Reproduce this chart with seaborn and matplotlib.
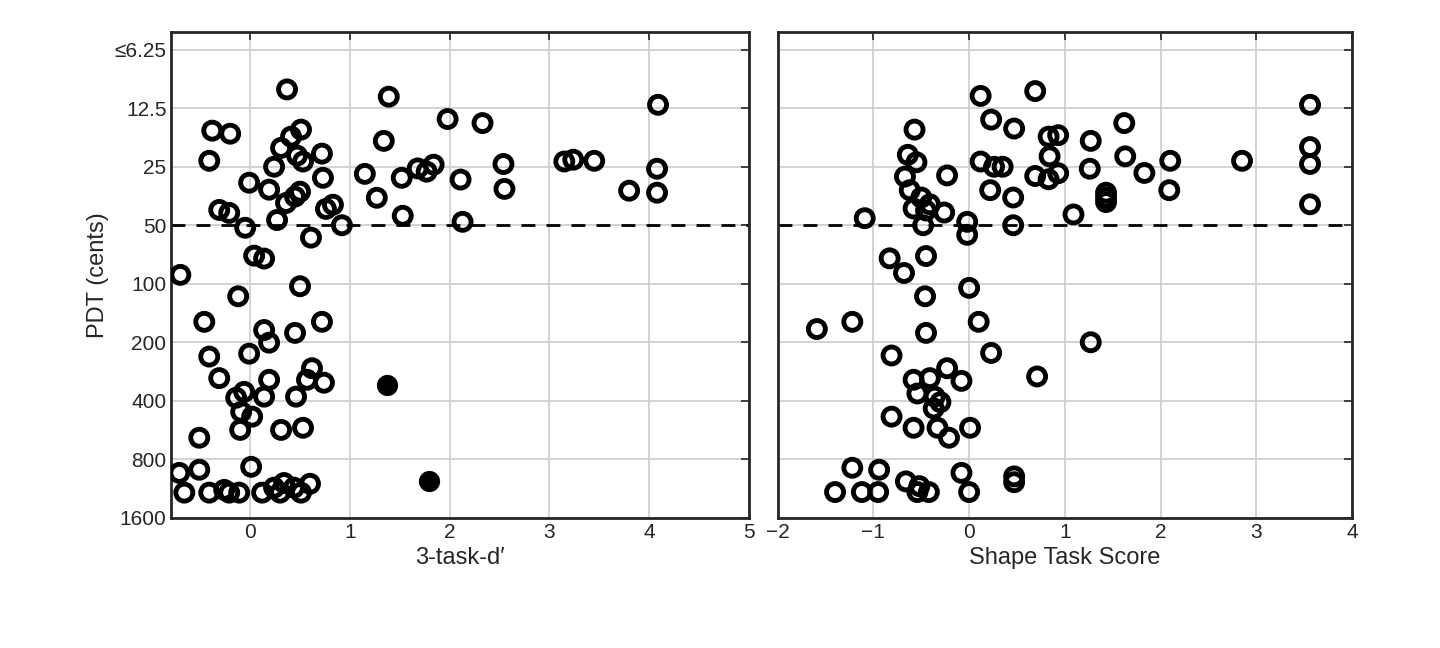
import seaborn as sns
import pandas as pd
import numpy as np
import matplotlib.pyplot as plt

sns.set_style("white")
plt.rcParams['font.family'] = ['Liberation Sans', 'DejaVu Sans']

# left panel: 3-task d' vs PDT (open rings)
d_x = [0.37, 1.39, 4.09, 1.98, 2.33, -0.38, -0.2, 0.51, 0.41, 1.34, 0.31, 0.72, -0.41, 0.47, 0.53,
       1.84, 1.77, 1.68, 2.54, 3.15, 3.24, 3.45, 4.08, 0.24, 1.52, 1.15, 0.73, 2.11, -0.01, 0.19,
       0.50, 2.55, 3.80, 4.08, 1.27, 0.36, 0.45, 0.83, 0.76, -0.31, -0.21, 1.53, 0.27, -0.05, 2.13,
       0.92, 0.61, 0.04, 0.14, -0.70, -0.12, 0.50, -0.46, 0.72, 0.14, 0.45, 0.19, -0.01, -0.41,
       0.62, -0.31, 0.19, 0.57, 0.74, -0.06, -0.14, 0.46, 0.14, -0.09, 0.02, -0.10, 0.31, 0.53,
       -0.51, 0.01, -0.51, -0.71, -0.66, -0.41, -0.21, -0.11, 0.12, 0.24, 0.34, 0.44, 0.51, 0.60,
       0.30, -0.26]
d_y = [10.0, 10.9, 12.0, 14.2, 14.9, 16.3, 16.9, 16.1, 17.5, 18.4, 20.0, 21.4, 23.3, 21.9, 23.5,
       24.4, 26.5, 25.5, 24.2, 23.5, 23.0, 23.3, 25.6, 25.0, 28.5, 27.2, 28.5, 29.1, 30.2, 32.8,
       33.6, 32.5, 33.2, 34.0, 36.1, 38.4, 35.6, 39.2, 41.2, 41.7, 43.2, 44.7, 47.0, 51.5, 48.0,
       50.0, 57.9, 71.7, 74.2, 90, 116, 103, 157, 157, 173, 179, 201, 229, 237,
       272, 306, 312, 312, 323, 360, 386, 381, 381, 456, 483, 565, 565, 551,
       620, 875, 906, 940, 1188, 1188, 1188, 1188, 1188, 1120, 1060, 1120, 1188, 1070,
       1188, 1150]
# left panel filled markers
df_x = [1.37, 1.79]
df_y = [332, 1040]

# right panel: shape task score vs PDT
s_x = [0.12, 0.69, 3.56, 0.23, 0.47, -0.57, 1.62, 0.93, 0.83, 1.27, 3.56, -0.64, -0.55, 1.63, 0.84,
       2.10, 2.85, 3.56, 0.12, 0.26, 0.35, 1.26, 1.83, -0.67, 0.69, -0.23, 0.83, 0.93, 1.43, 0.22,
       2.09, -0.62, -0.50, 0.46, 1.43, 3.56, -0.41, -0.58, -0.26, 1.09, -0.45, -1.09, 0.46, -0.48,
       -0.02, -0.02, -0.83, -0.45, -0.68, 0.0, -0.46, -1.59, -1.22, 0.10, -0.45, 1.27, 0.23, -0.81,
       -0.23, -0.58, -0.41, -0.08, 0.71, -0.54, -0.36, -0.30, -0.37, -0.81, -0.58, -0.33, -0.21,
       0.01, -1.22, -0.94, -0.08, 0.47, 0.47, -0.66, -0.52, -1.40, -1.12, -0.95, -0.54, -0.42, 0.0,
       1.43]
s_y = [10.8, 10.2, 12.0, 14.3, 15.9, 16.1, 14.9, 17.2, 17.5, 18.4, 19.8, 21.7, 23.7, 22.1, 22.1,
       23.3, 23.3, 24.2, 23.5, 25.0, 25.0, 25.6, 26.9, 28.1, 27.9, 27.7, 29.0, 27.0, 34.0, 33.0,
       33.0, 33.0, 36.0, 36.0, 38.0, 39.0, 39.0, 41.0, 43.0, 44.0, 42.0, 46.0, 50.0, 50.0,
       48.0, 56.0, 74, 72, 88, 105, 116, 171, 157, 157, 179, 200, 227, 234,
       272, 312, 306, 316, 300, 367, 381, 407, 438, 483, 551, 551, 620,
       551, 885, 906, 940, 980, 1050, 1040, 1100, 1180, 1180, 1180, 1180, 1180, 1180,
       36.0]

yticks = [6.25, 12.5, 25, 50, 100, 200, 400, 800, 1600]
ytick_labels = ['≤6.25', '12.5', '25', '50', '100', '200', '400', '800', '1600']

fig = plt.figure(figsize=(14.4, 6.48), dpi=100)
ax1 = fig.add_axes([0.119, 0.201, 0.401, 0.750])
ax2 = fig.add_axes([0.540, 0.201, 0.399, 0.750])

ring = dict(facecolor='none', edgecolor='black', linewidth=3.5, s=150, zorder=3)
sns.scatterplot(x=d_x, y=d_y, ax=ax1, **ring)
sns.scatterplot(x=df_x, y=df_y, ax=ax1, color='black', edgecolor='black', s=200, zorder=3)
sns.scatterplot(x=s_x, y=s_y, ax=ax2, **ring)

for ax in (ax1, ax2):
    ax.set_yscale('log', base=2)
    ax.set_ylim(1600, 5.05)
    ax.set_yticks(yticks)
    ax.minorticks_off()
    ax.axhline(50, color='black', ls='--', lw=2, dashes=(5, 4), zorder=2)
    ax.grid(True, color='#d0d0d0', lw=1.3)
    ax.tick_params(direction='in', length=6, width=1.2, labelsize=15, top=True, right=True,
                   colors='#262626')
    for sp in ax.spines.values():
        sp.set_linewidth(2)
        sp.set_color('#262626')

ax1.set_yticklabels(ytick_labels)
ax2.set_yticklabels([])
ax1.set_xlim(-0.79, 5)
ax1.set_xticks([0, 1, 2, 3, 4, 5])
ax2.set_xlim(-1.97, 4)
ax2.set_xticks([-2, -1, 0, 1, 2, 3, 4])
ax1.set_xlabel("3-task-d′", fontsize=17, color='#262626')
ax2.set_xlabel("Shape Task Score", fontsize=17, color='#262626')
ax1.set_ylabel("PDT (cents)", fontsize=17, color='#262626')

fig.savefig('out.png', dpi=100)
